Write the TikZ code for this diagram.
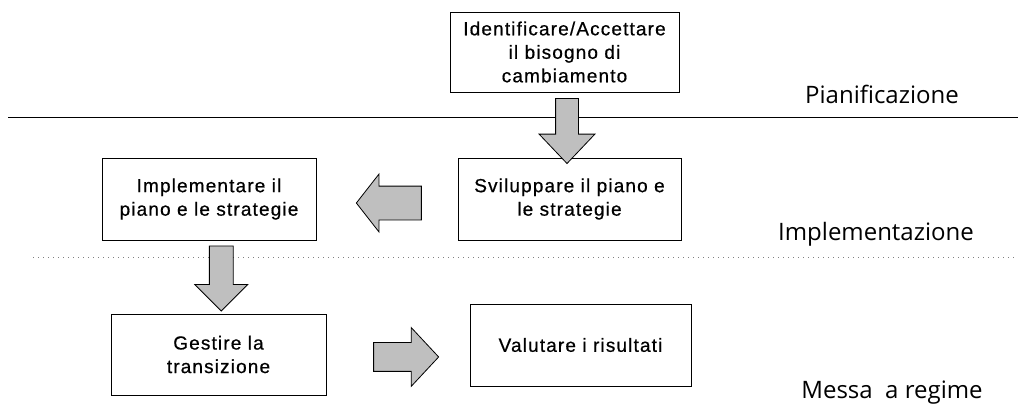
\documentclass[tikz,border=0pt]{standalone}
\usepackage{fontspec}
\usetikzlibrary{shapes.arrows, calc}
\newfontfamily\boxfont{Liberation Sans}[LetterSpace=6, FakeBold=0.6]
\newfontfamily\phasefont{Open Sans}
\tikzstyle{process} = [rectangle, minimum width=216pt, minimum height=82pt, text centered, align=center, draw=black, line width=1pt, font=\boxfont\fontsize{19}{23.5}\selectfont]
\tikzstyle{bigarrow} = [single arrow, draw=black, fill=gray!50, line width=0.8pt, inner xsep=0pt, single arrow head indent=0pt, minimum height=65pt]
\tikzstyle{phase} = [anchor=base, inner sep=0pt, font=\phasefont\fontsize{24}{28}\selectfont]

\begin{document}
\begin{tikzpicture}[x=1pt, y=-1pt, node distance=160pt]
	\useasboundingbox (0,0) rectangle (1018,405);
	% phase separators
	\draw [line width=0.9pt] (8,117) -- (1018,117);
	\draw [gray, line width=0.9pt, dash pattern=on 1pt off 4pt] (33,257) -- (1018,257);
	\node (plan) [phase] at (882,103) {Pianificazione};
	\node (impz) [phase] at (876,240) {Implementazione};
	\node (regime) [phase] at (892,398) {Messa~~a regime};
	% steps
	\node (ident) [process, minimum width=229pt, minimum height=80pt] at (564.5,52) {Identificare/Accettare\\il bisogno di\\cambiamento};
	\node (svil) [process, below of=ident, xshift=5pt, yshift=13pt, minimum width=223pt] {Sviluppare il piano e\\le strategie};
	\node (impl) [process, left of=svil, xshift=-200.5pt, minimum width=214pt] {Implementare il\\piano e le strategie};
	\node (gest) [process, below of=impl, xshift=9.5pt, yshift=4.5pt, minimum width=215pt, minimum height=81pt] {Gestire la\\transizione};
	\node (valut) [process, right of=gest, xshift=202pt, yshift=9.5pt, minimum width=221pt] {Valutare i risultati};
	% block arrows
	\node (a1) [bigarrow, rotate=-90, inner ysep=11pt, single arrow head extend=16.5pt, single arrow tip angle=87] at ($(ident.south)!0.5!(svil.north)$) {};
	\node (a2) [bigarrow, rotate=180, inner ysep=16.5pt, single arrow head extend=12pt, single arrow tip angle=104, yshift=4pt] at ($(impl.east)!0.56!(svil.west)$) {};
	\node (a3) [bigarrow, rotate=-90, inner ysep=11.5pt, single arrow head extend=14.5pt, single arrow tip angle=90, xshift=-4.5pt, yshift=7.5pt] at ($(impl.south)!0.5!(gest.north)$) {};
	\node (a4) [bigarrow, inner ysep=14pt, single arrow head extend=15pt, single arrow tip angle=94, yshift=-7.3pt] at ($(gest.east)!0.51!(valut.west)$) {};
\end{tikzpicture}
\end{document}
